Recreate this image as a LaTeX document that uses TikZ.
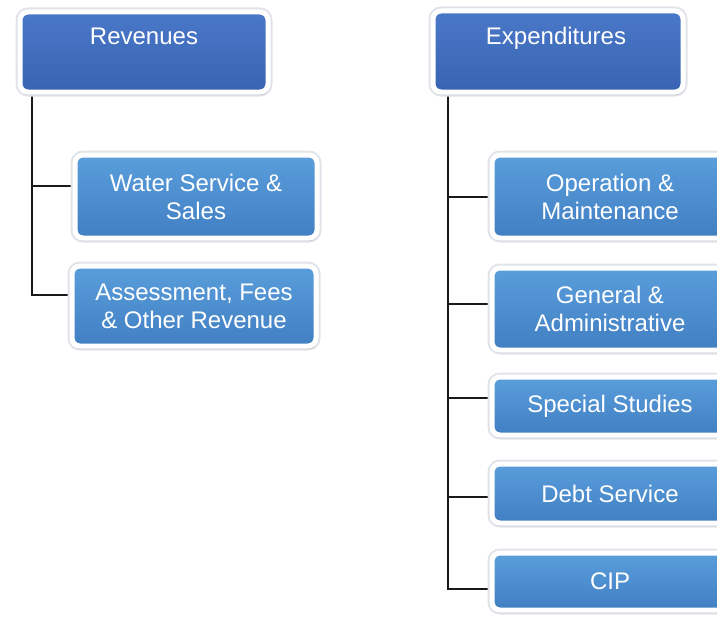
\documentclass[tikz,border=0pt]{standalone}
\usepackage{fontspec}
\setmainfont{Liberation Sans}
\usetikzlibrary{shadows}
\pgfdeclarelayer{background}
\pgfsetlayers{background,main}
\definecolor{topA}{HTML}{4A78C8}
\definecolor{topB}{HTML}{3863B2}
\definecolor{kidA}{HTML}{5A9EDB}
\definecolor{kidB}{HTML}{417FC3}
\definecolor{edge}{HTML}{E0E3E8}
\tikzset{
  basebox/.style={rectangle, rounded corners=8pt, draw=white, line width=5pt,
    preaction={draw=edge, line width=9pt},
    drop shadow={shadow xshift=1pt, shadow yshift=-3pt, opacity=0.15, fill=black},
    font=\fontsize{24}{28}\selectfont, text=white, align=center, inner sep=0pt},
  headbox/.style={basebox, top color=topA, bottom color=topB},
  kidbox/.style={basebox, top color=kidA, bottom color=kidB},
  headtext/.style={font=\fontsize{24}{28}\selectfont, text=white, anchor=base},
  link/.style={draw=black!90, line width=1.5pt}
}
\begin{document}
\begin{tikzpicture}[x=1pt,y=-1pt]
\useasboundingbox (0,0) rectangle (717,618);
\clip (0,0) rectangle (717,618);
\coordinate (revspine) at (32,96);
\coordinate (expspine) at (448,96);
\node[headbox, minimum width=248pt, minimum height=80pt] (rev) at (144,52) {};
\node[headbox, minimum width=250pt, minimum height=81pt] (exp) at (558,51.5) {};
\node[headtext] (revlabel) at (144,45) {Revenues};
\node[headtext] (explabel) at (556,45) {Expenditures};
\node[kidbox, minimum width=242pt, minimum height=83pt] (water) at (196,196.5) {Water Service \&\\Sales};
\node[kidbox, minimum width=244pt, minimum height=80pt] (assess) at (194,306) {Assessment, Fees\\\& Other Revenue};
\node[kidbox, minimum width=236pt, minimum height=83pt] (om) at (610,196.5) {Operation \&\\Maintenance};
\node[kidbox, minimum width=236pt, minimum height=82pt] (ga) at (610,309) {General \&\\Administrative};
\node[kidbox, minimum width=236pt, minimum height=58pt] (ss) at (610,406) {Special Studies};
\node[kidbox, minimum width=236pt, minimum height=59pt] (ds) at (610,493.5) {Debt Service};
\node[kidbox, minimum width=236pt, minimum height=57pt] (cip) at (610,581.5) {CIP};
\begin{pgfonlayer}{background}
\path[link] (revspine) |- ([yshift=10.5pt]water.west);
\path[link] (revspine) |- ([yshift=11pt]assess.west);
\path[link] (expspine) |- ([yshift=-0.5pt]om.west);
\path[link] (expspine) |- ([yshift=5pt]ga.west);
\path[link] (expspine) |- ([yshift=8pt]ss.west);
\path[link] (expspine) |- ([yshift=-3.5pt]ds.west);
\path[link] (expspine) |- ([yshift=-7.5pt]cip.west);
\end{pgfonlayer}
\end{tikzpicture}
\end{document}
